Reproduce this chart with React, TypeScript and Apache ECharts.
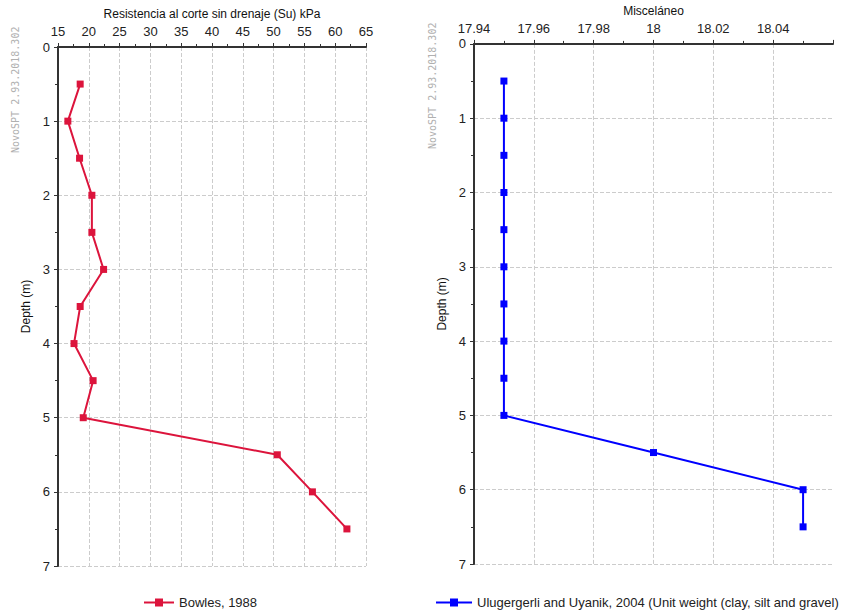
import React, { useEffect, useRef } from "react";
import * as echarts from "echarts";

const depths = [0.5, 1, 1.5, 2, 2.5, 3, 3.5, 4, 4.5, 5, 5.5, 6, 6.5];
const bowlesSu = [18.6, 16.6, 18.5, 20.5, 20.5, 22.4, 18.6, 17.6, 20.7, 19.1, 50.6, 56.3, 61.9];
const ulugergerliGamma = [17.95, 17.95, 17.95, 17.95, 17.95, 17.95, 17.95, 17.95, 17.95, 17.95, 18.0, 18.05, 18.05];

const leftName = "Bowles, 1988";
const rightName = "Ulugergerli and Uyanik, 2004 (Unit weight (clay, silt and gravel)";
const leftAxisTitle = "Resistencia al corte sin drenaje (Su) kPa";
const rightAxisTitle = "Misceláneo";
const depthTitle = "Depth (m)";
const watermark = "NovoSPT 2.93.2018.302";

const FONT = "Liberation Sans, Arial, sans-serif";

function makeX(gridIndex: number, min: number, max: number, interval: number, name: string, hideMax: boolean) {
  return {
    type: "value",
    gridIndex,
    position: "top",
    min,
    max,
    interval,
    name,
    nameLocation: "middle",
    nameGap: 25,
    nameTextStyle: { fontFamily: FONT, fontSize: 12, color: "#111" },
    axisLine: { show: true, lineStyle: { color: "#333", width: 2 } },
    axisTick: { show: true, length: 4, lineStyle: { color: "#333" } },
    minorTick: { show: true, splitNumber: 2, length: 3, lineStyle: { color: "#333" } },
    axisLabel: {
      fontFamily: FONT,
      fontSize: 13,
      color: "#222",
      margin: 9,
      showMaxLabel: !hideMax,
      formatter: (v: number) => String(parseFloat(v.toFixed(2))),
    },
    splitLine: { show: true, showMaxLine: !hideMax, lineStyle: { color: "#ccc", type: "dashed", width: 1 } },
  };
}

function makeY(gridIndex: number) {
  return {
    type: "value",
    gridIndex,
    inverse: true,
    min: 0,
    max: 7,
    interval: 1,
    name: depthTitle,
    nameLocation: "middle",
    nameGap: 26,
    nameTextStyle: { fontFamily: FONT, fontSize: 12, color: "#111" },
    axisLine: { show: true, lineStyle: { color: "#333", width: 2 } },
    axisTick: { show: true, length: 4, lineStyle: { color: "#333" } },
    minorTick: { show: true, splitNumber: 2, length: 3, lineStyle: { color: "#333" } },
    axisLabel: { fontFamily: FONT, fontSize: 13, color: "#222", margin: 8 },
    splitLine: { show: true, lineStyle: { color: "#ccc", type: "dashed", width: 1 } },
  };
}

export default function App() {
  const ref = useRef<HTMLDivElement>(null);
  useEffect(() => {
    if (!ref.current) return;
    const chart = echarts.init(ref.current, undefined, { renderer: "svg" });
    chart.setOption({
      animation: false,
      backgroundColor: "#fff",
      grid: [
        { left: 58, top: 47, width: 308, height: 519 },
        { left: 474, top: 43, width: 359, height: 521 },
      ],
      xAxis: [
        makeX(0, 15, 65, 5, leftAxisTitle, false),
        makeX(1, 17.94, 18.06, 0.02, rightAxisTitle, true),
      ],
      yAxis: [makeY(0), makeY(1)],
      legend: [
        {
          data: [leftName],
          left: 138,
          top: 591,
          itemWidth: 30,
          itemHeight: 10,
          itemGap: 10,
          textStyle: { fontFamily: FONT, fontSize: 13, color: "#222" },
        },
        {
          data: [rightName],
          left: 430,
          top: 591,
          itemWidth: 36,
          itemHeight: 10,
          textStyle: { fontFamily: FONT, fontSize: 13, color: "#222" },
        },
      ],
      graphic: [
        {
          type: "text",
          x: 10,
          y: 153,
          rotation: Math.PI / 2,
          style: { text: watermark, font: "10px 'DejaVu Sans Mono', monospace", fill: "#b0b0b0" },
        },
        {
          type: "text",
          x: 427,
          y: 149,
          rotation: Math.PI / 2,
          style: { text: watermark, font: "10px 'DejaVu Sans Mono', monospace", fill: "#b0b0b0" },
        },
      ],
      series: [
        {
          name: leftName,
          type: "line",
          xAxisIndex: 0,
          yAxisIndex: 0,
          data: depths.map((d, i) => [bowlesSu[i], d]),
          symbol: "rect",
          symbolSize: 7,
          color: "#dc143c",
          lineStyle: { width: 2, color: "#dc143c" },
          itemStyle: { color: "#dc143c" },
        },
        {
          name: rightName,
          type: "line",
          xAxisIndex: 1,
          yAxisIndex: 1,
          data: depths.map((d, i) => [ulugergerliGamma[i], d]),
          symbol: "rect",
          symbolSize: 7,
          color: "#0000ff",
          lineStyle: { width: 2, color: "#0000ff" },
          itemStyle: { color: "#0000ff" },
        },
      ],
    });
    return () => chart.dispose();
  }, []);
  return (
    <div
      ref={ref}
      style={{ position: "fixed", left: 0, top: 0, width: 844, height: 611, background: "#fff" }}
    />
  );
}
